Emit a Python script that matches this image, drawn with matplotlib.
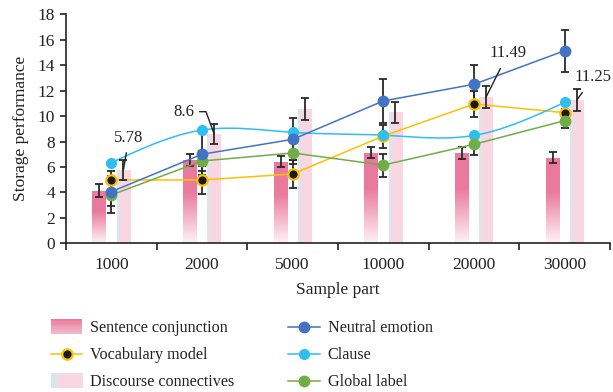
import numpy as np
import matplotlib
matplotlib.use("Agg")
import matplotlib.pyplot as plt
from matplotlib.patches import Rectangle
from matplotlib.lines import Line2D
from matplotlib.legend_handler import HandlerBase
from matplotlib.colors import to_rgb

plt.rcParams['font.family'] = ['Liberation Serif', 'DejaVu Serif']

# ---- data ----
categories = ['1000', '2000', '5000', '10000', '20000', '30000']

sentence_conj = [4.15, 6.55, 6.42, 7.12, 7.08, 6.73]
sentence_err = [0.48, 0.44, 0.45, 0.45, 0.46, 0.45]

discourse_conn = [5.78, 8.6, 10.53, 10.3, 11.49, 11.25]
discourse_err = [0.8, 0.8, 0.86, 0.82, 0.87, 0.85]

neutral_emotion = [4.06, 7.0, 8.17, 11.19, 12.5, 15.14]
neutral_err = [1.65, 1.65, 1.65, 1.7, 1.55, 1.65]

vocabulary_model = [4.98, 4.98, 5.45, 8.43, 10.95, 10.27]
vocabulary_err = [0.35, 1.1, 1.1, 0.9, 1.05, 0.3]

clause = [6.34, 8.9, 8.72, 8.5, 8.48, 11.08]

global_label = [3.8, 6.47, 7.1, 6.15, 7.78, 9.64]
global_err = [0.9, 0.8, 0.85, 0.9, 0.85, 0.55]

annotated = {0: '5.78', 1: '8.6', 4: '11.49', 5: '11.25'}

# ---- styles ----
PINK = '#EA7A9D'
PINK_LIGHT = '#F9D7E2'
TEAL_LIGHT = '#D3E9EC'
BLUE = '#4472C4'
CYAN = '#2EBFF0'
GOLD = '#FFC000'
GREEN = '#70AD47'
ERR = '#2a2a2a'


def natural_spline(xp, yp, num=200):
    """Smooth path through the points (natural cubic spline)."""
    xp = np.asarray(xp, float)
    yp = np.asarray(yp, float)
    n = len(xp)
    h = np.diff(xp)
    A = np.zeros((n, n))
    b = np.zeros(n)
    A[0, 0] = A[-1, -1] = 1
    for i in range(1, n - 1):
        A[i, i - 1] = h[i - 1]
        A[i, i] = 2 * (h[i - 1] + h[i])
        A[i, i + 1] = h[i]
        b[i] = 3 * ((yp[i + 1] - yp[i]) / h[i] - (yp[i] - yp[i - 1]) / h[i - 1])
    c = np.linalg.solve(A, b)
    xs = np.linspace(xp[0], xp[-1], num)
    ys = np.empty_like(xs)
    for k, xv in enumerate(xs):
        i = min(np.searchsorted(xp, xv, side='right') - 1, n - 2)
        dx = xv - xp[i]
        bi = (yp[i + 1] - yp[i]) / h[i] - h[i] * (2 * c[i] + c[i + 1]) / 3
        di = (c[i + 1] - c[i]) / (3 * h[i])
        ys[k] = yp[i] + bi * dx + c[i] * dx ** 2 + di * dx ** 3
    return xs, ys


fig = plt.figure(figsize=(6.13, 3.92), dpi=100)
ax = fig.add_axes([0.1077, 0.3793, 0.8874, 0.5842])

x = np.arange(len(categories))
bw = 0.152
off = 0.133

# gradient images for the bars
pink = np.array(to_rgb(PINK))
fade_bottom = np.array([0.995, 0.95, 0.965])
t = np.linspace(0, 1, 256)[:, None]
frac = np.clip(t / 0.6, 0, 1)
grad_v = (fade_bottom + (pink - fade_bottom) * frac)[:, None, :]

cols = [to_rgb(TEAL_LIGHT), to_rgb('#E9E2E8')] + [to_rgb(PINK_LIGHT)] * 8
grad_h = np.array(cols)[None, :, :]

bars_s = ax.bar(x - off, sentence_conj, width=bw, color='none', edgecolor='none', zorder=1)
bars_d = ax.bar(x + off, discourse_conn, width=bw, color='none', edgecolor='none', zorder=1)
for p in bars_s:
    x0, y0 = p.get_x(), p.get_y()
    im = ax.imshow(grad_v, extent=[x0, x0 + p.get_width(), y0, y0 + p.get_height()],
                   origin='lower', aspect='auto', zorder=1, interpolation='bilinear')
    im.set_clip_path(p)
for p in bars_d:
    x0, y0 = p.get_x(), p.get_y()
    im = ax.imshow(grad_h, extent=[x0, x0 + p.get_width(), y0, y0 + p.get_height()],
                   origin='lower', aspect='auto', zorder=1, interpolation='bilinear')
    im.set_clip_path(p)

ekw = dict(fmt='none', ecolor=ERR, elinewidth=1.3, capsize=3, capthick=1.3, zorder=3)
ax.errorbar(x - off, sentence_conj, yerr=sentence_err, **ekw)
ax.errorbar(x + off, discourse_conn, yerr=discourse_err, **ekw)
ax.errorbar(x, neutral_emotion, yerr=neutral_err, **ekw)
ax.errorbar(x, vocabulary_model, yerr=vocabulary_err, **ekw)
ax.errorbar(x, global_label, yerr=global_err, **ekw)

# lines
ax.plot(x, vocabulary_model, color=GOLD, lw=1.1, zorder=2)
ax.plot(x, vocabulary_model, ls='none', marker='o', ms=7.5, mfc='#1a1a1a', mec=GOLD, mew=1.6, zorder=4)
xs, ys = natural_spline(x, clause)
ax.plot(xs, ys, color=CYAN, lw=1.1, zorder=2)
ax.plot(x, clause, ls='none', marker='o', ms=7, color=CYAN, zorder=4)
ax.plot(x, global_label, color=GREEN, lw=1.1, marker='o', ms=7.5, zorder=4)
ax.plot(x, neutral_emotion, color=BLUE, lw=1.1, marker='o', ms=7.5, zorder=4)

# value labels on the discourse connective bars
ann_style = dict(textcoords='offset points', fontsize=12, color='#222222',
                 ha='center', va='center', zorder=5)
ax.annotate(annotated[0], xy=(x[0] + off, discourse_conn[0]), xytext=(4, 23),
            arrowprops=dict(arrowstyle='-', color='#222222', lw=1.0, shrinkA=3, shrinkB=0),
            **ann_style)
ax.annotate(annotated[1], xy=(x[1] + off, discourse_conn[1]), xytext=(-22, 16),
            arrowprops=dict(arrowstyle='-', color='#222222', lw=1.0, shrinkA=2, shrinkB=0,
                            relpos=(1, 0.5),
                            connectionstyle='angle,angleA=0,angleB=110,rad=0'),
            **ann_style)
ax.annotate(annotated[4], xy=(x[4] + off, discourse_conn[4]), xytext=(16, 32),
            arrowprops=dict(arrowstyle='-', color='#222222', lw=1.0, shrinkA=4, shrinkB=0),
            **ann_style)
ax.annotate(annotated[5], xy=(x[5] + off, discourse_conn[5]), xytext=(12, 16.5),
            arrowprops=dict(arrowstyle='-', color='#222222', lw=1.0, shrinkA=4, shrinkB=0),
            **ann_style)

# axes
ax.set_xlim(-0.5, len(categories) - 0.5)
ax.set_ylim(0, 18)
ax.set_yticks(np.arange(0, 19, 2))
ax.set_xticks(x)
ax.set_xticklabels(categories)
ax.set_xticks(np.arange(-0.5, len(categories), 1), minor=True)
ax.tick_params(axis='x', which='major', length=0, pad=10, labelsize=12.5, colors='#222222')
ax.tick_params(axis='x', which='minor', length=5, width=1.2, color='#222222')
ax.tick_params(axis='y', length=4, width=1.2, pad=4, labelsize=12.5, colors='#222222')
for s in ['top', 'right']:
    ax.spines[s].set_visible(False)
for s in ['left', 'bottom']:
    ax.spines[s].set_linewidth(1.2)
    ax.spines[s].set_color('#222222')
ax.set_xlabel('Sample part', fontsize=12.5, labelpad=6, color='#222222')
ax.set_ylabel('Storage performance', fontsize=12.5, labelpad=6, color='#222222')


class GradientPatchHandler(HandlerBase):
    def __init__(self, colors, vertical):
        super().__init__()
        self.colors = colors
        self.vertical = vertical

    def create_artists(self, legend, orig_handle, xdescent, ydescent, width, height, fontsize, trans):
        hh = height * 1.35
        y0 = -ydescent - (hh - height) / 2
        x0 = -xdescent
        n = len(self.colors)
        arts = []
        for i, c in enumerate(self.colors):
            if self.vertical:
                r = Rectangle((x0, y0 + hh * (n - 1 - i) / n), width, hh / n + 0.3,
                              facecolor=c, edgecolor='none', transform=trans)
            else:
                r = Rectangle((x0 + width * i / n, y0), width / n + 0.3, hh,
                              facecolor=c, edgecolor='none', transform=trans)
            arts.append(r)
        return arts


sent_cols = [tuple(pink + (np.array(to_rgb('#F2BACB')) - pink) * k / 11) for k in range(12)]
disc_cols = [TEAL_LIGHT, TEAL_LIGHT, '#F0DCE3'] + [PINK_LIGHT] * 9
h_sent = Rectangle((0, 0), 1, 1)
h_disc = Rectangle((0, 0), 1, 1)
h_vocab = Line2D([], [], color=GOLD, lw=1.1, marker='o', ms=7.5, mfc='#1a1a1a', mec=GOLD, mew=1.6)
h_neu = Line2D([], [], color=BLUE, lw=1.1, marker='o', ms=7.5)
h_cla = Line2D([], [], color=CYAN, lw=1.1, marker='o', ms=7)
h_glo = Line2D([], [], color=GREEN, lw=1.1, marker='o', ms=7.5)

leg_kw = dict(frameon=False, fontsize=11.6, handlelength=1.95, handletextpad=0.5,
              labelspacing=0.68, borderpad=0, borderaxespad=0, loc='upper left',
              labelcolor='#222222')
fig.legend([h_sent, h_vocab, h_disc],
           ['Sentence conjunction', 'Vocabulary model', 'Discourse connectives'],
           handler_map={h_sent: GradientPatchHandler(sent_cols, True),
                        h_disc: GradientPatchHandler(disc_cols, False)},
           bbox_to_anchor=(0.083, 0.183), **leg_kw)
fig.legend([h_neu, h_cla, h_glo], ['Neutral emotion', 'Clause', 'Global label'],
           bbox_to_anchor=(0.470, 0.183), **leg_kw)

fig.savefig('out.png', dpi=100)
